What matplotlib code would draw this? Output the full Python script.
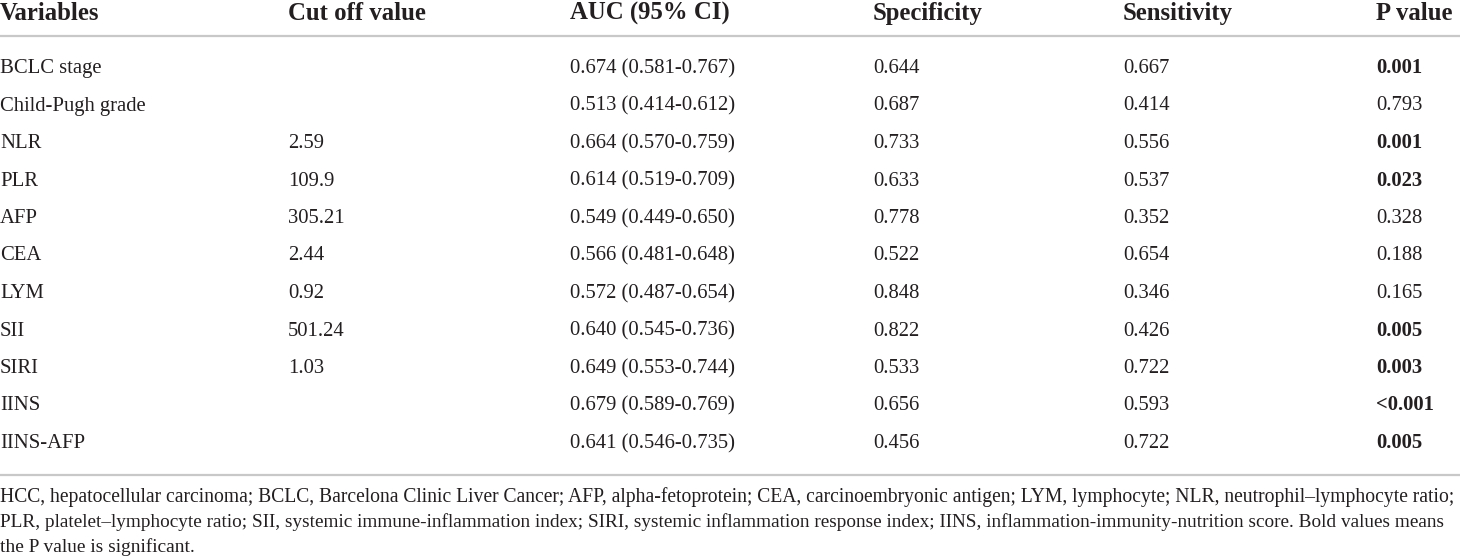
import matplotlib
matplotlib.use("Agg")
import matplotlib.pyplot as plt

variables = ["BCLC stage", "Child-Pugh grade", "NLR", "PLR", "AFP", "CEA", "LYM",
             "SII", "SIRI", "IINS", "IINS-AFP"]
cutoff = ["", "", "2.59", "109.9", "305.21", "2.44", "0.92", "501.24", "1.03", "", ""]
auc = ["0.674 (0.581-0.767)", "0.513 (0.414-0.612)", "0.664 (0.570-0.759)",
       "0.614 (0.519-0.709)", "0.549 (0.449-0.650)", "0.566 (0.481-0.648)",
       "0.572 (0.487-0.654)", "0.640 (0.545-0.736)", "0.649 (0.553-0.744)",
       "0.679 (0.589-0.769)", "0.641 (0.546-0.735)"]
specificity = ["0.644", "0.687", "0.733", "0.633", "0.778", "0.522", "0.848",
               "0.822", "0.533", "0.656", "0.456"]
sensitivity = ["0.667", "0.414", "0.556", "0.537", "0.352", "0.654", "0.346",
               "0.426", "0.722", "0.593", "0.722"]
pvalue = ["0.001", "0.793", "0.001", "0.023", "0.328", "0.188", "0.165",
          "0.005", "0.003", "<0.001", "0.005"]
significant = [True, False, True, True, False, False, False, True, True, True, True]
headers = ["Variables", "Cut off value", "AUC (95% CI)", "Specificity",
           "Sensitivity", "P value"]
footnote = [
    "HCC, hepatocellular carcinoma; BCLC, Barcelona Clinic Liver Cancer; AFP, alpha-fetoprotein; "
    "CEA, carcinoembryonic antigen; LYM, lymphocyte; NLR, neutrophil\u2013lymphocyte ratio;",
    "PLR, platelet\u2013lymphocyte ratio; SII, systemic immune-inflammation index; SIRI, systemic "
    "inflammation response index; IINS, inflammation-immunity-nutrition score. Bold values means",
    "the P value is significant.",
]

W, H = 1460, 560
fig = plt.figure(figsize=(W / 100, H / 100), dpi=100)
ax = fig.add_axes([0, 0, 1, 1])
ax.set_xlim(0, W)
ax.set_ylim(H, 0)
ax.axis("off")

FONT = "Liberation Serif"
TXT = "#231f20"
LINE = "#c8c8c8"
col_x = [0, 288, 570, 873, 1123, 1376]
head_fs = 17.8
body_fs = 14.9

# header
for x, h in zip(col_x, headers):
    ax.text(x, 20, h, fontsize=head_fs, fontweight="bold", family=FONT,
            color=TXT, va="baseline", ha="left")
ax.plot([0, W], [36, 36], color=LINE, lw=1.6, solid_capstyle="butt")

# body rows
y0, dy = 73, 37.5
for i in range(len(variables)):
    y = y0 + dy * i
    cols = [variables[i], cutoff[i], auc[i], specificity[i], sensitivity[i], pvalue[i]]
    for j, (x, s) in enumerate(zip(col_x, cols)):
        bold = (j == 5 and significant[i])
        ax.text(x, y, s, fontsize=body_fs, family=FONT, color=TXT,
                fontweight="bold" if bold else "normal", va="baseline", ha="left")

ax.plot([0, W], [475, 475], color=LINE, lw=1.6, solid_capstyle="butt")

# footnote: each full line sized to span the width
fig.canvas.draw()
renderer = fig.canvas.get_renderer()
right = 1457
foot_y = [502, 527, 552]
base_fs = 14.0
sizes = []
for k, (line, y) in enumerate(zip(footnote, foot_y)):
    t = ax.text(0, y, line, fontsize=base_fs, family=FONT, color=TXT,
                va="baseline", ha="left")
    if k < len(footnote) - 1:
        wd = t.get_window_extent(renderer).width
        fs = base_fs * right / wd
        t.set_fontsize(fs)
        sizes.append(fs)
    else:
        t.set_fontsize(sum(sizes) / len(sizes))

fig.savefig("out.png", dpi=100, facecolor="white")
